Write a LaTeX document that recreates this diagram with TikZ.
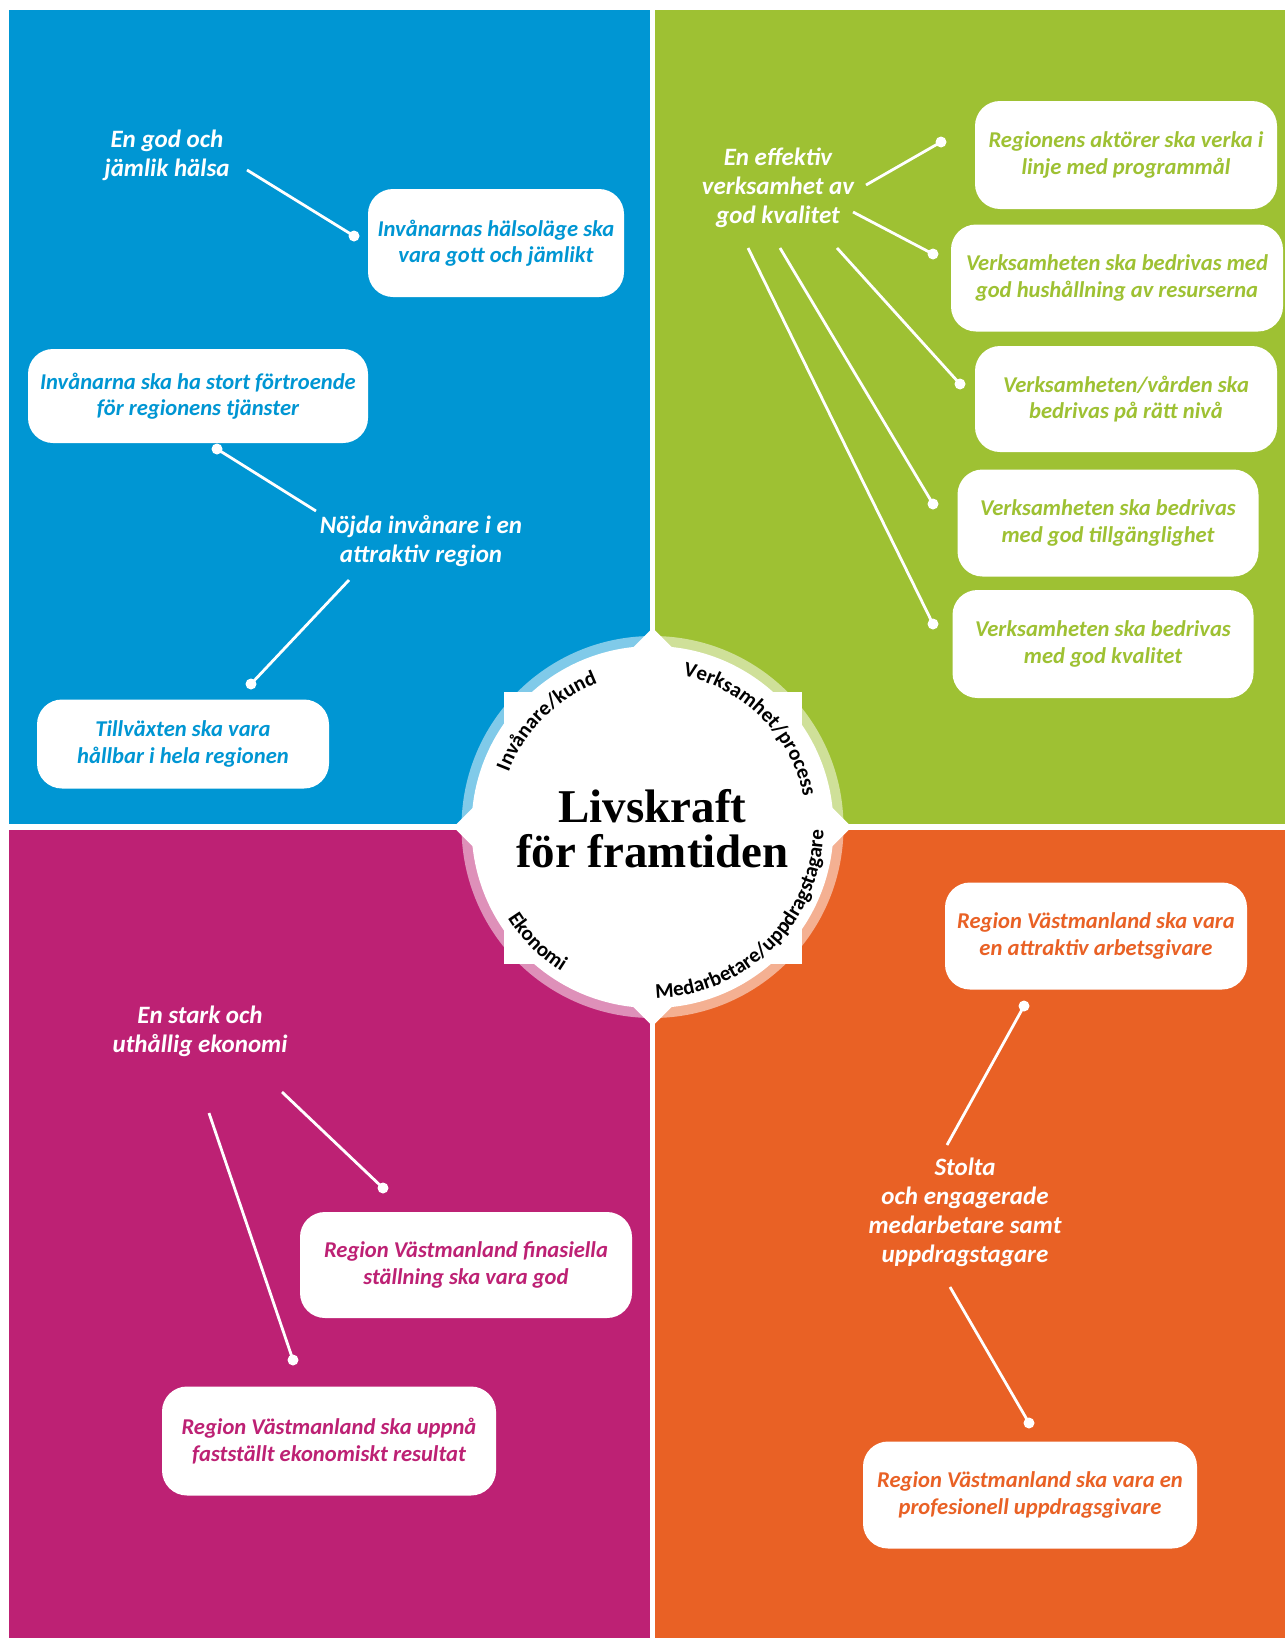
\documentclass[tikz,border=0pt]{standalone}
\usepackage{fontspec}
\setmainfont{Carlito}
\newfontfamily\serifttl{Liberation Serif}
\usetikzlibrary{positioning,calc,decorations.text}

\definecolor{rvblue}{HTML}{0096D3}
\definecolor{rvgreen}{HTML}{9EC133}
\definecolor{rvmagenta}{HTML}{BD2174}
\definecolor{rvorange}{HTML}{E96125}

\newcommand{\goalfnt}{\fontsize{22.6}{26.5}\selectfont\bfseries\itshape}
\newcommand{\headfnt}{\fontsize{25}{29}\selectfont\bfseries\itshape}
\newcommand{\ringfnt}{\fontsize{21}{24}\selectfont\bfseries}
\newcommand{\titlefnt}{\serifttl\bfseries\fontsize{47}{45}\selectfont}

\begin{document}
\begin{tikzpicture}[x=1pt, y=1pt,
    goal/.style={fill=white, rounded corners=25pt, align=center, inner sep=0pt, font=\goalfnt},
    head/.style={align=center, text=white, inner sep=0pt, font=\headfnt},
    dot/.style={circle, fill=white, inner sep=0pt, minimum size=11pt},
    link/.style={draw=white, line width=2.8pt},
    ringlabel/.style={decorate, decoration={text along path, text align=center, text color=black}}]
    % Page and the four quadrants
    \useasboundingbox (0,0) rectangle (1285,-1638);
    \fill[white] (0,0) rectangle (1285,-1638);
    \fill[rvblue] (9,-10) rectangle (650,-824);
    \fill[rvgreen] (655,-10) rectangle (1285,-824);
    \fill[rvmagenta] (9,-830) rectangle (650,-1638);
    \fill[rvorange] (655,-830) rectangle (1285,-1638);

    % Centre: tinted ring, white star and disc
    \coordinate (C) at (652.5,-827);
    \foreach \a/\c in {90/rvblue, 0/rvgreen, 180/rvmagenta, 270/rvorange} {
      \fill[\c!50!white] (C) -- ($(C)+(\a:191)$) arc[start angle=\a, delta angle=90, radius=191] -- cycle;
    }
    \fill[white] ($(C)+(-149,-137)$) rectangle ($(C)+(149,135)$);
    \fill[white] ($(C)+(0,199)$) -- ($(C)+(-199,0)$) -- ($(C)+(0,-199)$) -- ($(C)+(199,0)$) -- cycle;
    \fill[white] (C) circle[radius=181];
    \node[align=center, inner sep=0pt, font=\titlefnt] (title) at ($(C)+(0,-1.5)$) {Livskraft\\för framtiden};

    % Perspective names round the ring
    \path[ringlabel, decoration={text={|\ringfnt|Invånare/kund}}] ($(C)+(200:154)$) arc[start angle=200, end angle=70, radius=154];
    \path[ringlabel, decoration={text={|\ringfnt|Verksamhet/process}}] ($(C)+(110:154)$) arc[start angle=110, end angle=-20, radius=154];
    \path[ringlabel, decoration={text={|\ringfnt|Medarbetare/uppdragstagare}}] ($(C)+(250:171)$) arc[start angle=250, end angle=380, radius=171];
    \path[ringlabel, decoration={text={|\ringfnt|Ekonomi}}] ($(C)+(160:171)$) arc[start angle=160, end angle=290, radius=171];

    % Invånare/kund
    \node[head] (halsaH) at (167,-155) {En god och\\jämlik hälsa};
    \node[goal, text=rvblue, minimum width=256pt, minimum height=108pt] (halsa) at (496,-243) {Invånarnas hälsoläge ska\\vara gott och jämlikt};
    \node[goal, text=rvblue, minimum width=340pt, minimum height=94pt] (fortroende) at (198,-396) {Invånarna ska ha stort förtroende\\för regionens tjänster};
    \node[head] (nojdaH) at (421,-541) {Nöjda invånare i en\\attraktiv region};
    \node[goal, text=rvblue, minimum width=292pt, minimum height=89pt] (tillvaxt) at (183,-744) {Tillväxten ska vara\\hållbar i hela regionen};
    \node[dot] (halsaD) at (354,-236) {};
    \node[dot] (fortroendeD) at (217,-449) {};
    \node[dot] (tillvaxtD) at (251,-684) {};
    \coordinate (halsaS) at (247,-170);
    \coordinate (nojdaS1) at (316,-511);
    \coordinate (nojdaS2) at (349,-580);
    \draw[link] (halsaS) -- (halsaD.center);
    \draw[link] (nojdaS1) -- (fortroendeD.center);
    \draw[link] (nojdaS2) -- (tillvaxtD.center);

    % Verksamhet/process
    \node[head] (effektivH) at (778,-188) {En effektiv\\verksamhet av\\god kvalitet};
    \node[goal, text=rvgreen, minimum width=302pt, minimum height=108pt] (aktorer) at (1126,-155) {Regionens aktörer ska verka i\\linje med programmål};
    \node[goal, text=rvgreen, minimum width=332pt, minimum height=107pt] (hushall) at (1117,-278) {Verksamheten ska bedrivas med\\god hushållning av resurserna};
    \node[goal, text=rvgreen, minimum width=302pt, minimum height=106pt] (niva) at (1126,-399) {Verksamheten/vården ska\\bedrivas på rätt nivå};
    \node[goal, text=rvgreen, minimum width=301pt, minimum height=107pt] (tillgang) at (1108,-523) {Verksamheten ska bedrivas\\med god tillgänglighet};
    \node[goal, text=rvgreen, minimum width=301pt, minimum height=108pt] (kvalitet) at (1103,-644) {Verksamheten ska bedrivas\\med god kvalitet};
    \node[dot] (aktorerD) at (941,-142) {};
    \node[dot] (hushallD) at (933,-254) {};
    \node[dot] (nivaD) at (960,-384) {};
    \node[dot] (tillgangD) at (933,-504) {};
    \node[dot] (kvalitetD) at (933,-624) {};
    \coordinate (effektivS1) at (866,-185);
    \coordinate (effektivS2) at (853,-212);
    \coordinate (effektivS3) at (837,-248);
    \coordinate (effektivS4) at (780,-248);
    \coordinate (effektivS5) at (748,-248);
    \draw[link] (effektivS1) -- (aktorerD.center);
    \draw[link] (effektivS2) -- (hushallD.center);
    \draw[link] (effektivS3) -- (nivaD.center);
    \draw[link] (effektivS4) -- (tillgangD.center);
    \draw[link] (effektivS5) -- (kvalitetD.center);

    % Ekonomi
    \node[head] (ekonomiH) at (200,-1031) {En stark och\\uthållig ekonomi};
    \node[goal, text=rvmagenta, minimum width=332pt, minimum height=106pt] (stallning) at (466,-1265) {Region Västmanland finasiella\\ställning ska vara god};
    \node[goal, text=rvmagenta, minimum width=334pt, minimum height=109pt] (resultat) at (329,-1441) {Region Västmanland ska uppnå\\fastställt ekonomiskt resultat};
    \node[dot] (stallningD) at (383,-1188) {};
    \node[dot] (resultatD) at (293,-1360) {};
    \coordinate (ekonomiS1) at (282,-1092);
    \coordinate (ekonomiS2) at (209,-1113);
    \draw[link] (ekonomiS1) -- (stallningD.center);
    \draw[link] (ekonomiS2) -- (resultatD.center);

    % Medarbetare/uppdragstagare
    \node[goal, text=rvorange, minimum width=302pt, minimum height=107pt] (arbetsgivare) at (1096,-936) {Region Västmanland ska vara\\en attraktiv arbetsgivare};
    \node[head] (stoltaH) at (965,-1212) {Stolta\\och engagerade\\medarbetare samt\\uppdragstagare};
    \node[goal, text=rvorange, minimum width=334pt, minimum height=107pt] (uppdragsgivare) at (1030,-1495) {Region Västmanland ska vara en\\profesionell uppdragsgivare};
    \node[dot] (arbetsgivareD) at (1024,-1006) {};
    \node[dot] (uppdragsgivareD) at (1029,-1423) {};
    \coordinate (stoltaS1) at (947,-1145);
    \coordinate (stoltaS2) at (950,-1287);
    \draw[link] (stoltaS1) -- (arbetsgivareD.center);
    \draw[link] (stoltaS2) -- (uppdragsgivareD.center);
\end{tikzpicture}
\end{document}
